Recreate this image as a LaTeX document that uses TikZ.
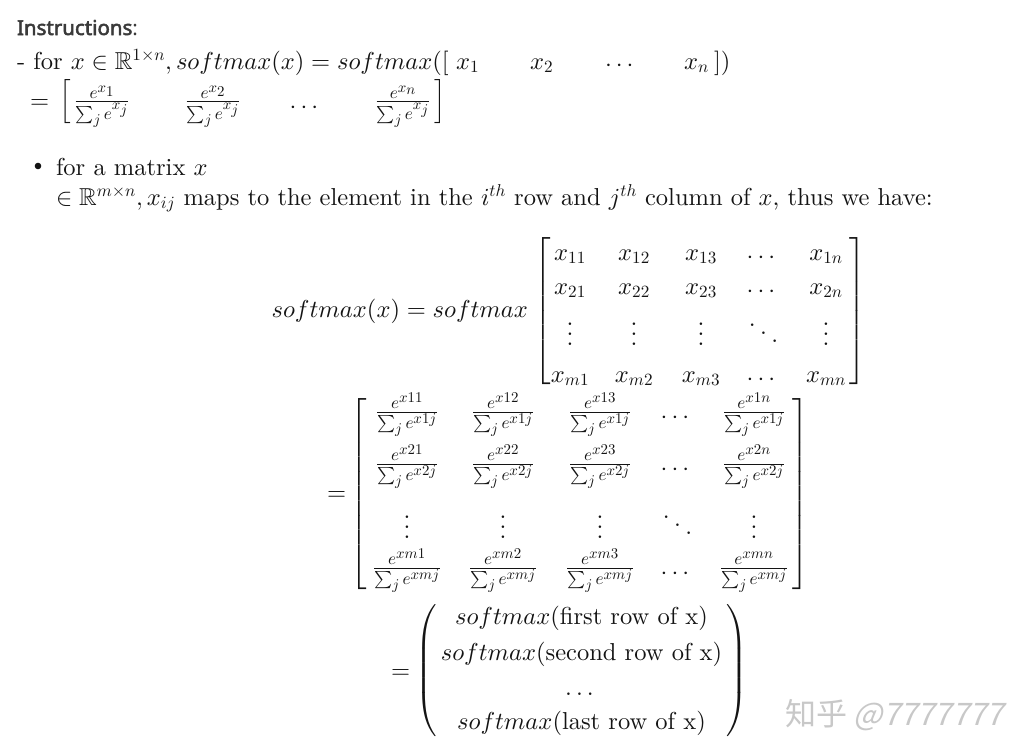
\documentclass[tikz,border=0pt]{standalone}
\usepackage{amsmath,amssymb}
\usepackage{fontspec}
\setmainfont{lmroman10}[Extension=.otf,UprightFont=*-regular,BoldFont=*-bold,ItalicFont=*-italic,BoldItalicFont=*-bolditalic]
\DeclareFontShape{OML}{cmm}{m}{it}{<->cmmi10}{}
\DeclareFontShape{OMS}{cmsy}{m}{n}{<->cmsy10}{}
\DeclareFontShape{OMX}{cmex}{m}{n}{<->cmex10}{}
\DeclareFontShape{OT1}{cmr}{m}{n}{<->cmr10}{}
\DeclareMathSizes{24.5}{24.5}{17.15}{14.9}
\newfontfamily\instfont[FakeBold=2.5]{Noto Sans}
\newfontfamily\instreg{Noto Sans}
\newfontfamily\cjk{Noto Sans CJK SC}
\newfontfamily\cjkslant[FakeSlant=0.22]{Noto Sans CJK SC}
\definecolor{ink}{HTML}{141414}
\definecolor{head}{HTML}{3A3A3A}
\definecolor{wm}{HTML}{C8C8C8}
\newcommand\fs{\fontsize{24.5}{29}\selectfont}
\newcommand\dlimL[2]{$\left#1\vrule height\dimexpr#2pt+0.25em\relax depth\dimexpr#2pt-0.25em\relax width0pt\right.$}
\newcommand\dlimR[2]{$\left.\vrule height\dimexpr#2pt+0.25em\relax depth\dimexpr#2pt-0.25em\relax width0pt\right#1$}
\newcommand\myvdots{\vbox{\baselineskip=10pt\lineskiplimit=0pt\hbox{.}\hbox{.}\hbox{.}}}
\newcommand\myddots{\hbox{\raise16pt\hbox{.}\kern4.5pt\raise8pt\hbox{.}\kern4.5pt\hbox{.}}}
\newcommand\fr[2]{$\frac{e^{x#1}}{\sum_j e^{x#2}}$}
\begin{document}
\begin{tikzpicture}[x=1pt,y=-1pt,
  every node/.style={inner sep=0pt,outer sep=0pt,text=ink,font=\fs},
  txt/.style={anchor=base west},
  cell/.style={anchor=base},
  delim/.style={anchor=base west},
  delimr/.style={anchor=base east}]
\fill[white] (0,0) rectangle (1032,755);
\useasboundingbox (0,0) rectangle (1032,755);

% heading
\node[txt,font=\fontsize{20.5}{24}\selectfont,text=head] (inst) at (17,35) {{\instfont Instructions}{\instreg :}};

% line 1
\node[txt] (l1) at (17,69) {$\text{- for } x\in\mathbb{R}^{1\times n}, softmax(x) = softmax([$};
\node[txt] (l1x1) at (456,69) {$x_1$};
\node[txt] (l1x2) at (530,69) {$x_2$};
\node[txt] (l1dots) at (605,71) {$\cdots$};
\node[txt] (l1xn) at (684,69) {$x_n$};
\node[txt] (l1end) at (714,69) {$])$};

% line 2
\node[txt] (eq2) at (30,108) {$=$};
\node[delim] (lb2) at (59,108) {\dlimL{[}{22}};
\node[cell] (f21) at (102,108) {$\frac{e^{x_1}}{\sum_j e^{x_j}}$};
\node[cell] (f22) at (213,108) {$\frac{e^{x_2}}{\sum_j e^{x_j}}$};
\node[cell] (f2d) at (306,113) {$\cdots$};
\node[cell] (f2n) at (403,108) {$\frac{e^{x_n}}{\sum_j e^{x_j}}$};
\node[delimr] (rb2) at (446,108) {\dlimR{]}{22}};

% bullet
\fill[ink] (38,166) circle (3.3);
\node[txt] (b1) at (56,175) {for a matrix $x$};
\node[txt] (b2) at (56,205) {$\in\mathbb{R}^{m\times n}, x_{ij}\text{ maps to the element in the }i^{th}\text{ row and }j^{th}\text{ column of }x\text{, thus we have:}$};

% display 1
\node[anchor=base east] (d1lhs) at (528,317) {$softmax(x) = softmax$};
\node[delim] (lb3) at (534,317) {\dlimL{[}{75}};
\node[delimr] (rb3) at (866,317) {\dlimR{]}{75}};
\foreach \c/\xx in {1/570,2/634,3/701}{
  \node[cell] (m1\c) at (\xx,260) {$x_{1\c}$};
  \node[cell] (m2\c) at (\xx,294) {$x_{2\c}$};
  \node[cell] (mv\c) at (\xx,345.5) {\myvdots};
  \node[cell] (mm\c) at (\xx,382) {$x_{m\c}$};
}
\node[cell] (m14) at (763,263) {$\cdots$};
\node[cell] (m24) at (763,297) {$\cdots$};
\node[cell] (mv4) at (763.5,342.5) {\myddots};
\node[cell] (mm4) at (763,385) {$\cdots$};
\node[cell] (m1n) at (826,260) {$x_{1n}$};
\node[cell] (m2n) at (826,294) {$x_{2n}$};
\node[cell] (mvn) at (826,345.5) {\myvdots};
\node[cell] (mmn) at (826,382) {$x_{mn}$};

% display 2
\node[txt] (eq4) at (327,500) {$=$};
\node[delim] (lb4) at (350,500) {\dlimL{[}{98}};
\node[delimr] (rb4) at (809,500) {\dlimR{]}{98}};
\foreach \c/\xx in {1/407,2/503,3/600}{
  \node[cell] (s1\c) at (\xx,418.25) {\fr{1\c}{1j}};
  \node[cell] (s2\c) at (\xx,470.25) {\fr{2\c}{2j}};
  \node[cell] (sv\c) at (\xx,538.5) {\myvdots};
  \node[cell] (sm\c) at (\xx,574.25) {\fr{m\c}{mj}};
}
\node[cell] (s14) at (677,423) {$\cdots$};
\node[cell] (s24) at (677,475) {$\cdots$};
\node[cell] (sv4) at (677.5,534.5) {\myddots};
\node[cell] (sm4) at (677,579) {$\cdots$};
\node[cell] (s1n) at (754,418.25) {\fr{1n}{1j}};
\node[cell] (s2n) at (754,470.25) {\fr{2n}{2j}};
\node[cell] (svn) at (754,538.5) {\myvdots};
\node[cell] (smn) at (754,574.25) {\fr{mn}{mj}};

% display 3
\node[txt] (eq5) at (391,678) {$=$};
\node[delim] (lp5) at (415,677) {\dlimL{(}{66}};
\node[delimr] (rp5) at (748,677) {\dlimR{)}{66}};
\node[cell] (r1) at (581.5,624) {$softmax(\text{first row of x})$};
\node[cell] (r2) at (581.5,660) {$softmax(\text{second row of x})$};
\node[cell] (r3) at (581.5,695) {$\dots$};
\node[cell] (r4) at (581.5,729) {$softmax(\text{last row of x})$};

% watermark
\node[txt,font=\fontsize{31}{36}\selectfont,text=wm] (wmark) at (785,725) {\cjk 知乎 \cjkslant @7777777};
\end{tikzpicture}
\end{document}
